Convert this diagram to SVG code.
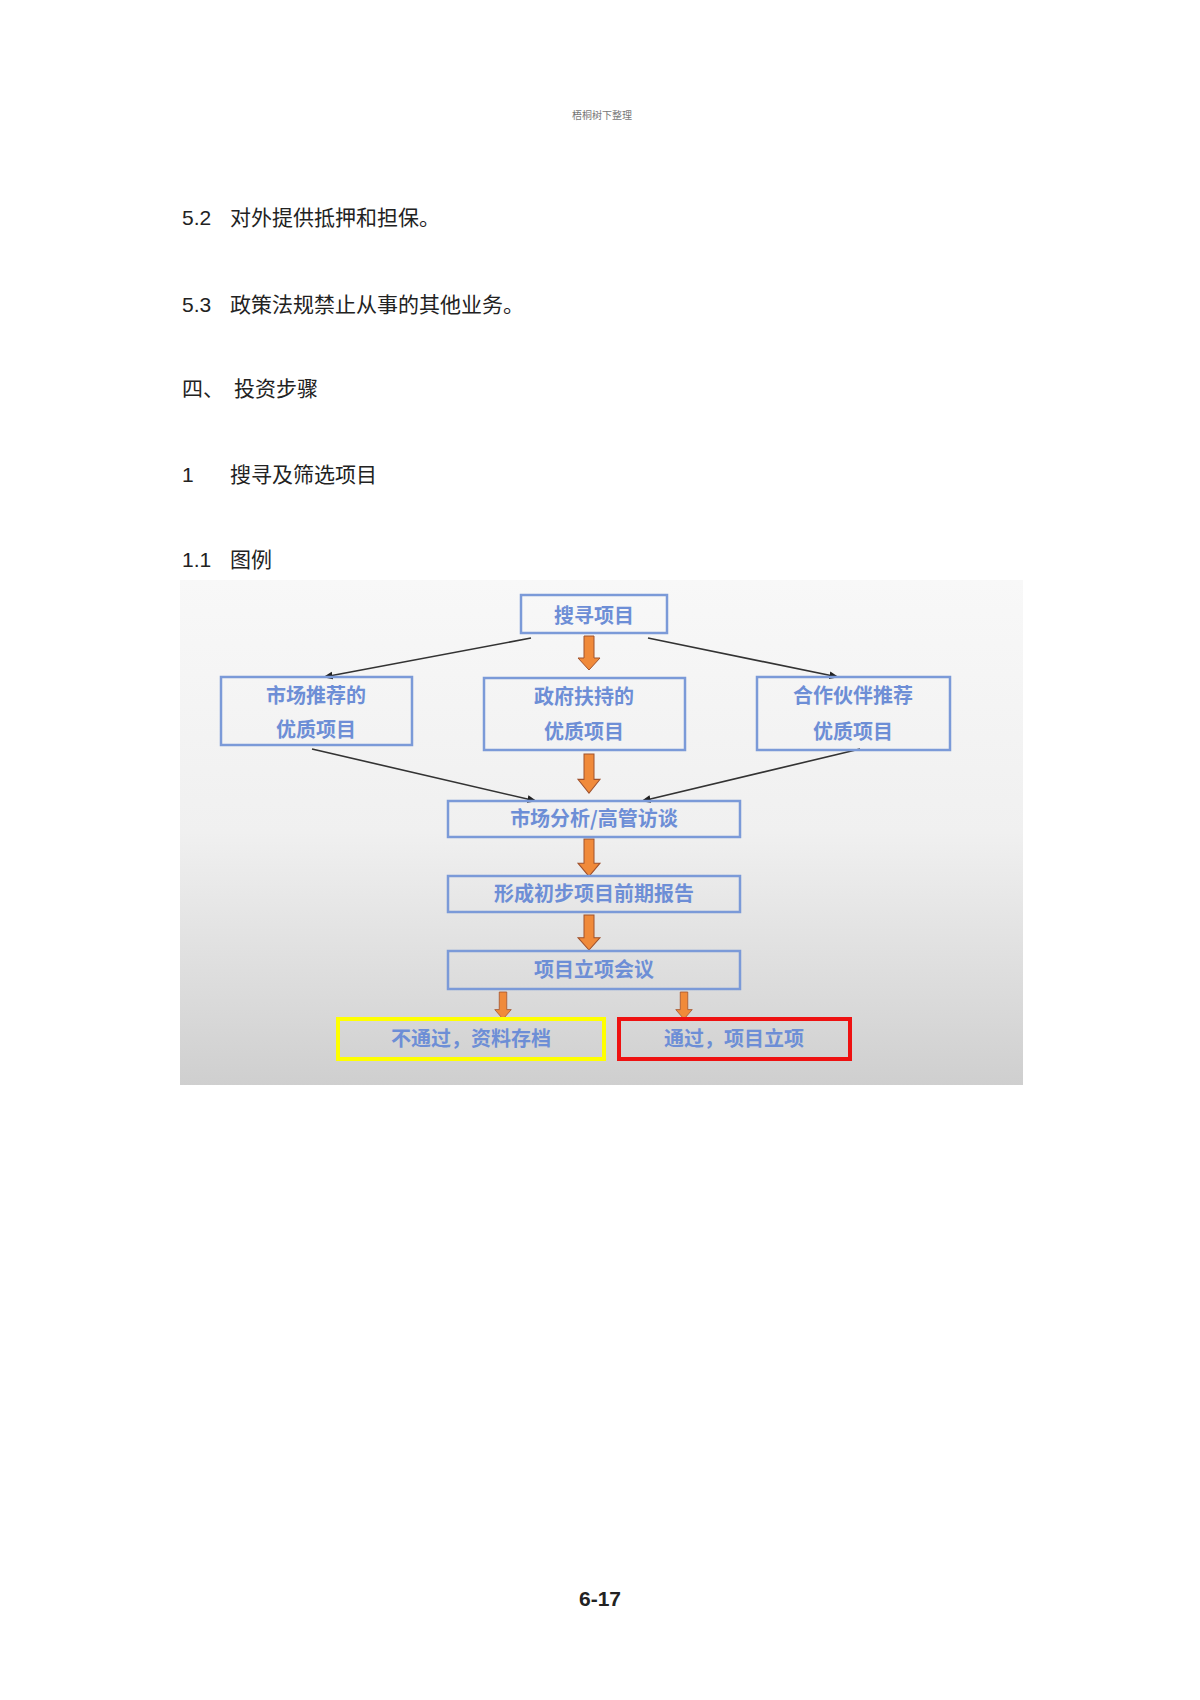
<svg xmlns="http://www.w3.org/2000/svg" width="1200" height="1700" viewBox="0 0 1200 1700">
<defs>
<linearGradient id="bg" x1="0" y1="0" x2="0" y2="1"><stop offset="0" stop-color="#f8f8f8"/><stop offset="0.5" stop-color="#f0f0f0"/><stop offset="1" stop-color="#cfcfcf"/></linearGradient>
<marker id="ah" viewBox="0 0 10 10" refX="9" refY="5" markerWidth="6" markerHeight="6" orient="auto"><path d="M0,1 L10,5 L0,9 z" fill="#222"/></marker>
<path id="oa" d="M-5,0 H5 V22 H11 L0,34 L-11,22 H-5 Z"/>
<style>
.body{font-family:"Liberation Sans","Noto Sans CJK SC",sans-serif;font-size:21px;fill:#222}
.node{fill:none;stroke:#7b9ad8;stroke-width:2.5}
.nt{font-family:"Noto Sans CJK SC",sans-serif;font-size:20px;font-weight:bold;fill:#6d8ed6;text-anchor:middle}
.ln{stroke:#333;stroke-width:1.6;fill:none;marker-end:url(#ah)}
.or{fill:#f08a3a;stroke:#a0522d;stroke-width:1}
</style>
</defs>
<rect width="1200" height="1700" fill="#fff"/>
<text x="602" y="119" text-anchor="middle" font-family="Noto Sans CJK SC,sans-serif" font-size="10" fill="#777">梧桐树下整理</text>
<text class="body" x="182" y="225">5.2<tspan x="230">对外提供抵押和担保。</tspan></text>
<text class="body" x="182" y="312">5.3<tspan x="230">政策法规禁止从事的其他业务。</tspan></text>
<text class="body" x="182" y="396">四、<tspan x="234">投资步骤</tspan></text>
<text class="body" x="182" y="482">1<tspan x="230">搜寻及筛选项目</tspan></text>
<text class="body" x="182" y="567">1.1<tspan x="230">图例</tspan></text>
<text class="body" x="600" y="1606" text-anchor="middle" font-size="15" font-weight="bold">6-17</text>
<rect x="180" y="580" width="843" height="505" fill="url(#bg)"/>
<g id="connectors">
<line class="ln" x1="531" y1="638" x2="324" y2="677"/>
<line class="ln" x1="648" y1="638" x2="838" y2="677"/>
<line class="ln" x1="312" y1="749" x2="536" y2="801"/>
<line class="ln" x1="860" y1="749" x2="642" y2="801"/>
<use href="#oa" class="or" transform="translate(589,636)"/>
<use href="#oa" class="or" transform="translate(589,754) scale(1,1.15)"/>
<use href="#oa" class="or" transform="translate(589,839) scale(1,1.1)"/>
<use href="#oa" class="or" transform="translate(589,915) scale(1,1.03)"/>
<use href="#oa" class="or" transform="translate(503,992) scale(0.75,0.8)"/>
<use href="#oa" class="or" transform="translate(684,992) scale(0.75,0.8)"/>
</g>
<g id="n1"><rect class="node" x="521" y="595" width="146" height="38"/><text class="nt" x="594" y="623" font-size="23">搜寻项目</text></g>
<g id="n2"><rect class="node" x="221" y="677" width="191" height="68"/><text class="nt" x="316" y="703">市场推荐的</text><text class="nt" x="316" y="737">优质项目</text></g>
<g id="n3"><rect class="node" x="484" y="678" width="201" height="72"/><text class="nt" x="584" y="704">政府扶持的</text><text class="nt" x="584" y="739">优质项目</text></g>
<g id="n4"><rect class="node" x="757" y="677" width="193" height="73"/><text class="nt" x="853" y="703">合作伙伴推荐</text><text class="nt" x="853" y="739">优质项目</text></g>
<g id="n5"><rect class="node" x="448" y="801" width="292" height="36"/><text class="nt" x="594" y="826">市场分析/高管访谈</text></g>
<g id="n6"><rect class="node" x="448" y="876" width="292" height="36"/><text class="nt" x="594" y="901">形成初步项目前期报告</text></g>
<g id="n7"><rect class="node" x="448" y="951" width="292" height="38"/><text class="nt" x="594" y="977">项目立项会议</text></g>
<g id="n8"><rect x="338" y="1019" width="266" height="40" fill="none" stroke="#ffff00" stroke-width="4"/><text class="nt" x="471" y="1046" font-weight="normal">不通过，资料存档</text></g>
<g id="n9"><rect x="619" y="1019" width="231" height="40" fill="none" stroke="#ee1111" stroke-width="4"/><text class="nt" x="734" y="1046" font-weight="normal">通过，项目立项</text></g>
</svg>
